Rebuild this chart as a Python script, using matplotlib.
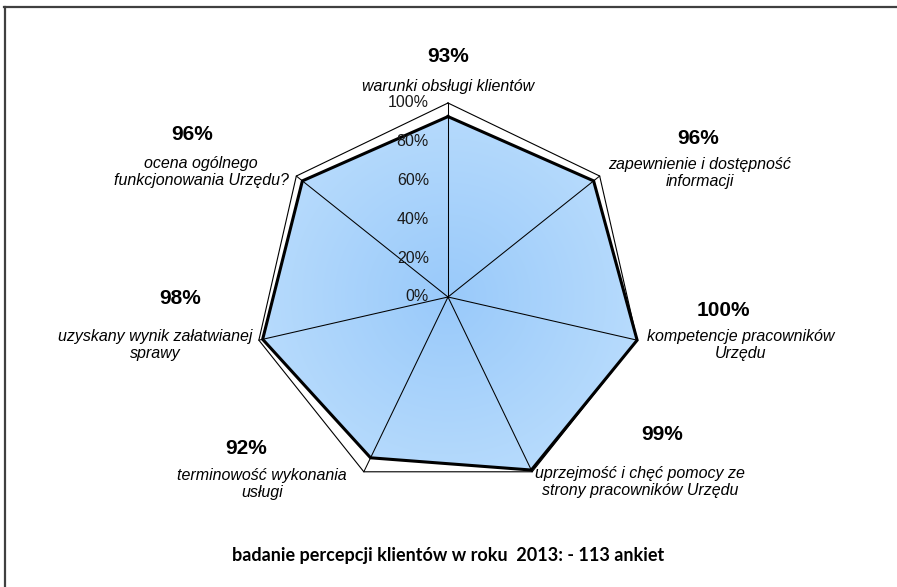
import numpy as np
import matplotlib.pyplot as plt
from matplotlib.lines import Line2D
from matplotlib.patches import Polygon

# data
categories = ['warunki obsługi klientów',
              'zapewnienie i dostępność\ninformacji',
              'kompetencje pracowników\nUrzędu',
              'uprzejmość i chęć pomocy ze\nstrony pracowników Urzędu',
              'terminowość wykonania\nusługi',
              'uzyskany wynik załatwianej\nsprawy',
              'ocena ogólnego\nfunkcjonowania Urzędu?']
values = [93, 96, 100, 99, 92, 98, 96]
ticks = [0, 20, 40, 60, 80, 100]
title = 'badanie percepcji klientów w roku  2013: - 113 ankiet'

W, H = 897, 587
cx, cy, R = 448, 297, 194  # centre and radius in pixels

plt.rcParams['font.family'] = ['Liberation Sans', 'DejaVu Sans']
fig = plt.figure(figsize=(W / 100, H / 100), dpi=100)
ax = fig.add_axes([0, 0, 1, 1])
ax.set_xlim(-cx / R, (W - cx) / R)
ax.set_ylim(-(H - cy) / R, cy / R)
ax.axis('off')

n = len(values)
ang = np.arange(n) * 2 * np.pi / n
ux, uy = np.sin(ang), np.cos(ang)
r = np.array(values) / 100.0
px, py = r * ux, r * uy

# gradient fill clipped to the data polygon
poly = Polygon(np.column_stack([px, py]), closed=True, facecolor='none',
               edgecolor='none')
ax.add_patch(poly)
gx, gy = np.meshgrid(np.linspace(-1.1, 1.1, 300), np.linspace(-1.1, 1.1, 300))
d = np.clip(np.hypot(gx, gy), 0, 1)
c0 = np.array([0.60, 0.79, 0.98])
c1 = np.array([0.72, 0.86, 0.99])
img = c0 + (c1 - c0) * d[..., None]
im = ax.imshow(img, extent=(-1.1, 1.1, -1.1, 1.1), origin='lower',
               interpolation='bilinear', zorder=1)
im.set_clip_path(poly)

# outer frame (100%) and spokes
ax.plot(np.append(ux, ux[0]), np.append(uy, uy[0]), color='black', lw=0.8,
        zorder=2)
for x, y in zip(ux, uy):
    ax.plot([0, x], [0, y], color='black', lw=0.75, zorder=3)

# data line
ax.plot(np.append(px, px[0]), np.append(py, py[0]), color='black', lw=2.2,
        zorder=4, solid_joinstyle='miter')

# radial tick labels
for t in ticks:
    ax.text(-0.098, t / 100, f'{t}%', ha='right', va='center',
            fontsize=11.5, color='#1a1a1a', zorder=5)

# category labels (pixel positions): value x, value y, label x, label y
lab_pos = [(448, 57, 448, 86), (698, 139, 700, 173), (723, 311, 741, 345),
           (662, 434, 640, 482), (246, 448, 262, 484), (180, 299, 155, 345),
           (192, 134, 201, 172)]
for v, name, (vx, vy, lx, ly) in zip(values, categories, lab_pos):
    fig.text(vx / W, 1 - vy / H, f'{v}%', ha='center', va='center',
             fontsize=15, fontweight='bold')
    fig.text(lx / W, 1 - ly / H, name, ha='center', va='center',
             fontsize=11.5, style='italic', linespacing=1.1)

fig.text(448 / W, 1 - 556 / H, title, ha='center', va='center', fontsize=13,
         fontweight='bold', family=['Lato', 'DejaVu Sans'])

# chart border (top and left)
fig.add_artist(Line2D([4 / W, 1], [1 - 7 / H, 1 - 7 / H], color='#404040',
                      lw=1.6, transform=fig.transFigure))
fig.add_artist(Line2D([5 / W, 5 / W], [0, 1 - 7 / H], color='#404040',
                      lw=1.6, transform=fig.transFigure))

fig.savefig('out.png', dpi=100)
